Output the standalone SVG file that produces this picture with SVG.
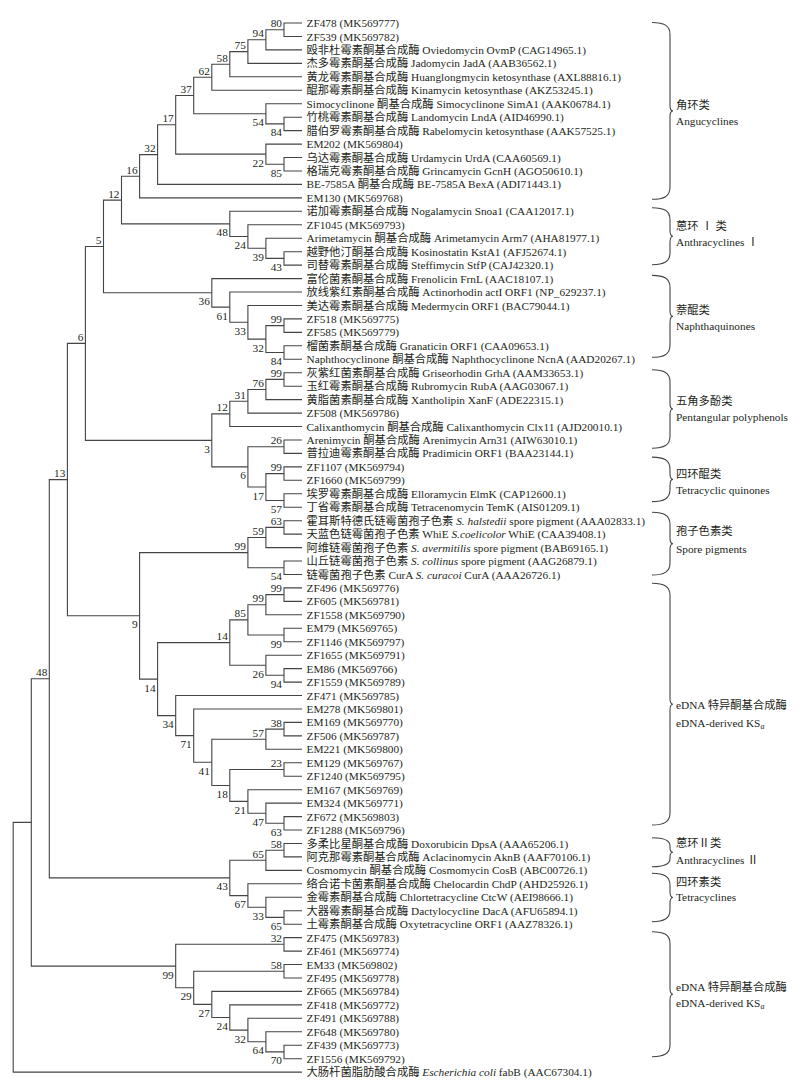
<svg xmlns="http://www.w3.org/2000/svg" width="800" height="1088" viewBox="0 0 800 1088">
<style>
text{font-family:"Liberation Serif","Noto Sans CJK SC",serif;font-size:11.3px;fill:#231f20}
.b{text-anchor:end}
.i{font-style:italic}
.br{fill:none;stroke:#444;stroke-width:1.1}
.brace{fill:none;stroke:#444;stroke-width:1.1}
</style>
<rect width="800" height="1088" fill="#fff"/>
<g id="connectors" class="br">
<path d="M302 23 H284 V36.5 H302"/>
<path d="M284 29.7 H265.9 V49.9 H302"/>
<path d="M265.9 39.8 H247.9 V63.4 H302"/>
<path d="M247.9 51.6 H229.8 V76.8 H302"/>
<path d="M229.8 64.2 H211.8 V90.3 H302"/>
<path d="M302 117.2 H284 V130.6 H302"/>
<path d="M302 103.7 H265.9 V123.9 H284"/>
<path d="M211.8 77.2 H193.7 V113.8 H265.9"/>
<path d="M302 157.5 H284 V171 H302"/>
<path d="M302 144.1 H265.9 V164.2 H284"/>
<path d="M193.7 95.5 H175.7 V154.1 H265.9"/>
<path d="M175.7 124.8 H157.6 V184.4 H302"/>
<path d="M157.6 154.6 H139.6 V197.9 H302"/>
<path d="M302 251.7 H284 V265.1 H302"/>
<path d="M302 238.2 H265.9 V258.4 H284"/>
<path d="M302 224.8 H247.9 V248.3 H265.9"/>
<path d="M302 211.3 H229.8 V236.5 H247.9"/>
<path d="M139.6 176.2 H121.5 V223.9 H229.8"/>
<path d="M302 318.9 H284 V332.4 H302"/>
<path d="M302 345.8 H284 V359.3 H302"/>
<path d="M284 325.6 H265.9 V352.5 H284"/>
<path d="M302 305.5 H247.9 V339.1 H265.9"/>
<path d="M302 292 H229.8 V322.3 H247.9"/>
<path d="M302 278.6 H211.8 V307.1 H229.8"/>
<path d="M121.5 200.1 H103.5 V292.8 H211.8"/>
<path d="M302 372.7 H284 V386.2 H302"/>
<path d="M284 379.4 H265.9 V399.6 H302"/>
<path d="M265.9 389.5 H247.9 V413.1 H302"/>
<path d="M247.9 401.3 H229.8 V426.5 H302"/>
<path d="M302 440 H284 V453.4 H302"/>
<path d="M302 466.9 H284 V480.3 H302"/>
<path d="M302 493.8 H284 V507.2 H302"/>
<path d="M284 473.6 H265.9 V500.5 H284"/>
<path d="M284 446.7 H247.9 V487 H265.9"/>
<path d="M229.8 413.9 H211.8 V466.9 H247.9"/>
<path d="M103.5 246.5 H85.4 V440.4 H211.8"/>
<path d="M302 520.7 H284 V534.1 H302"/>
<path d="M284 527.4 H265.9 V547.6 H302"/>
<path d="M302 561 H284 V574.5 H302"/>
<path d="M265.9 537.5 H247.9 V567.7 H284"/>
<path d="M302 587.9 H284 V601.4 H302"/>
<path d="M284 594.6 H265.9 V614.8 H302"/>
<path d="M302 628.3 H284 V641.7 H302"/>
<path d="M265.9 604.7 H247.9 V635 H284"/>
<path d="M302 668.6 H284 V682.1 H302"/>
<path d="M302 655.2 H265.9 V675.3 H284"/>
<path d="M247.9 619.9 H229.8 V665.2 H265.9"/>
<path d="M302 722.4 H284 V735.9 H302"/>
<path d="M284 729.1 H265.9 V749.3 H302"/>
<path d="M302 762.8 H284 V776.2 H302"/>
<path d="M302 816.6 H284 V830 H302"/>
<path d="M302 803.1 H265.9 V823.3 H284"/>
<path d="M302 789.7 H247.9 V813.2 H265.9"/>
<path d="M284 769.5 H229.8 V801.4 H247.9"/>
<path d="M265.9 739.2 H211.8 V785.5 H229.8"/>
<path d="M302 709 H193.7 V762.3 H211.8"/>
<path d="M302 695.5 H175.7 V735.6 H193.7"/>
<path d="M229.8 642.6 H157.6 V715.6 H175.7"/>
<path d="M247.9 552.6 H139.6 V679.1 H157.6"/>
<path d="M85.4 343.4 H67.4 V615.8 H139.6"/>
<path d="M302 843.5 H284 V856.9 H302"/>
<path d="M284 850.2 H265.9 V870.4 H302"/>
<path d="M302 910.7 H284 V924.2 H302"/>
<path d="M302 897.3 H265.9 V917.4 H284"/>
<path d="M302 883.8 H247.9 V907.3 H265.9"/>
<path d="M265.9 860.3 H229.8 V895.6 H247.9"/>
<path d="M67.4 479.6 H49.3 V877.9 H229.8"/>
<path d="M302 937.6 H284 V951.1 H302"/>
<path d="M302 964.5 H284 V978 H302"/>
<path d="M302 1045.2 H284 V1058.7 H302"/>
<path d="M302 1031.8 H265.9 V1051.9 H284"/>
<path d="M302 1018.3 H247.9 V1041.8 H265.9"/>
<path d="M302 1004.9 H229.8 V1030.1 H247.9"/>
<path d="M302 991.4 H211.8 V1017.5 H229.8"/>
<path d="M284 971.2 H193.7 V1004.4 H211.8"/>
<path d="M284 944.3 H175.7 V987.8 H193.7"/>
<path d="M49.3 678.8 H31.3 V966.1 H175.7"/>
<path d="M31.3 822.4 H13.2 V1072.1 H302"/>
</g>
<g id="bootstrap" class="b">
<text class="b" x="282" y="27.2">80</text>
<text class="b" x="263.9" y="37.3">94</text>
<text class="b" x="245.9" y="49.1">75</text>
<text class="b" x="227.8" y="61.7">58</text>
<text class="b" x="209.8" y="74.7">62</text>
<text class="b" x="282" y="136.4">84</text>
<text class="b" x="263.9" y="126.3">54</text>
<text class="b" x="191.7" y="93">37</text>
<text class="b" x="282" y="176.7">85</text>
<text class="b" x="263.9" y="166.6">22</text>
<text class="b" x="173.7" y="122.3">17</text>
<text class="b" x="155.6" y="152.1">32</text>
<text class="b" x="137.6" y="173.7">16</text>
<text class="b" x="282" y="270.9">43</text>
<text class="b" x="263.9" y="260.8">39</text>
<text class="b" x="245.9" y="249">24</text>
<text class="b" x="227.8" y="236.4">48</text>
<text class="b" x="119.5" y="197.6">12</text>
<text class="b" x="282" y="323.1">99</text>
<text class="b" x="282" y="365">84</text>
<text class="b" x="263.9" y="351.6">32</text>
<text class="b" x="245.9" y="334.8">33</text>
<text class="b" x="227.8" y="319.6">61</text>
<text class="b" x="209.8" y="305.3">36</text>
<text class="b" x="101.5" y="244">5</text>
<text class="b" x="282" y="376.9">99</text>
<text class="b" x="263.9" y="387">76</text>
<text class="b" x="245.9" y="398.8">31</text>
<text class="b" x="227.8" y="411.4">12</text>
<text class="b" x="282" y="444.2">26</text>
<text class="b" x="282" y="471.1">99</text>
<text class="b" x="282" y="513">57</text>
<text class="b" x="263.9" y="499.5">17</text>
<text class="b" x="245.9" y="479.4">6</text>
<text class="b" x="209.8" y="452.9">3</text>
<text class="b" x="83.4" y="340.9">6</text>
<text class="b" x="282" y="524.9">63</text>
<text class="b" x="263.9" y="535">59</text>
<text class="b" x="282" y="580.2">54</text>
<text class="b" x="245.9" y="550.1">99</text>
<text class="b" x="282" y="592.1">99</text>
<text class="b" x="263.9" y="602.2">99</text>
<text class="b" x="282" y="647.5">99</text>
<text class="b" x="245.9" y="617.4">85</text>
<text class="b" x="282" y="687.8">94</text>
<text class="b" x="263.9" y="677.7">26</text>
<text class="b" x="227.8" y="640.1">14</text>
<text class="b" x="282" y="726.6">38</text>
<text class="b" x="263.9" y="736.7">57</text>
<text class="b" x="282" y="767">23</text>
<text class="b" x="282" y="835.8">63</text>
<text class="b" x="263.9" y="825.7">47</text>
<text class="b" x="245.9" y="813.9">21</text>
<text class="b" x="227.8" y="798">18</text>
<text class="b" x="209.8" y="774.8">41</text>
<text class="b" x="191.7" y="748.1">71</text>
<text class="b" x="173.7" y="728.1">34</text>
<text class="b" x="155.6" y="691.6">14</text>
<text class="b" x="137.6" y="628.3">9</text>
<text class="b" x="65.4" y="477.1">13</text>
<text class="b" x="282" y="847.7">58</text>
<text class="b" x="263.9" y="857.8">65</text>
<text class="b" x="282" y="929.9">65</text>
<text class="b" x="263.9" y="919.8">33</text>
<text class="b" x="245.9" y="908.1">67</text>
<text class="b" x="227.8" y="890.4">43</text>
<text class="b" x="47.3" y="676.3">48</text>
<text class="b" x="282" y="941.8">32</text>
<text class="b" x="282" y="968.7">58</text>
<text class="b" x="282" y="1064.4">70</text>
<text class="b" x="263.9" y="1054.3">64</text>
<text class="b" x="245.9" y="1042.6">32</text>
<text class="b" x="227.8" y="1029.9">24</text>
<text class="b" x="209.8" y="1016.9">27</text>
<text class="b" x="191.7" y="1000.3">29</text>
<text class="b" x="173.7" y="978.6">99</text>
</g>
<g id="leaves">
<text x="306.5" y="27">ZF478 (MK569777)</text>
<text x="306.5" y="40.5">ZF539 (MK569782)</text>
<text x="306.5" y="53.9">殴非杜霉素酮基合成酶 Oviedomycin OvmP (CAG14965.1)</text>
<text x="306.5" y="67.4">杰多霉素酮基合成酶 Jadomycin JadA (AAB36562.1)</text>
<text x="306.5" y="80.8">黄龙霉素酮基合成酶 Huanglongmycin ketosynthase (AXL88816.1)</text>
<text x="306.5" y="94.3">醌那霉素酮基合成酶 Kinamycin ketosynthase (AKZ53245.1)</text>
<text x="306.5" y="107.7">Simocyclinone 酮基合成酶 Simocyclinone SimA1 (AAK06784.1)</text>
<text x="306.5" y="121.2">竹桃霉素酮基合成酶 Landomycin LndA (AID46990.1)</text>
<text x="306.5" y="134.6">腊伯罗霉素酮基合成酶 Rabelomycin ketosynthase (AAK57525.1)</text>
<text x="306.5" y="148.1">EM202 (MK569804)</text>
<text x="306.5" y="161.5">乌达霉素酮基合成酶 Urdamycin UrdA (CAA60569.1)</text>
<text x="306.5" y="175">格瑞克霉素酮基合成酶 Grincamycin GcnH (AGO50610.1)</text>
<text x="306.5" y="188.4">BE-7585A 酮基合成酶 BE-7585A BexA (ADI71443.1)</text>
<text x="306.5" y="201.9">EM130 (MK569768)</text>
<text x="306.5" y="215.3">诺加霉素酮基合成酶 Nogalamycin Snoa1 (CAA12017.1)</text>
<text x="306.5" y="228.8">ZF1045 (MK569793)</text>
<text x="306.5" y="242.2">Arimetamycin 酮基合成酶 Arimetamycin Arm7 (AHA81977.1)</text>
<text x="306.5" y="255.7">越野他汀酮基合成酶 Kosinostatin KstA1 (AFJ52674.1)</text>
<text x="306.5" y="269.1">司替霉素酮基合成酶 Steffimycin StfP (CAJ42320.1)</text>
<text x="306.5" y="282.6">富伦菌素酮基合成酶 Frenolicin FrnL (AAC18107.1)</text>
<text x="306.5" y="296">放线紫红素酮基合成酶 Actinorhodin actI ORF1 (NP_629237.1)</text>
<text x="306.5" y="309.5">美达霉素酮基合成酶 Medermycin ORF1 (BAC79044.1)</text>
<text x="306.5" y="322.9">ZF518 (MK569775)</text>
<text x="306.5" y="336.4">ZF585 (MK569779)</text>
<text x="306.5" y="349.8">榴菌素酮基合成酶 Granaticin ORF1 (CAA09653.1)</text>
<text x="306.5" y="363.3">Naphthocyclinone 酮基合成酶 Naphthocyclinone NcnA (AAD20267.1)</text>
<text x="306.5" y="376.7">灰紫红菌素酮基合成酶 Griseorhodin GrhA (AAM33653.1)</text>
<text x="306.5" y="390.2">玉红霉素酮基合成酶 Rubromycin RubA (AAG03067.1)</text>
<text x="306.5" y="403.6">黄脂菌素酮基合成酶 Xantholipin XanF (ADE22315.1)</text>
<text x="306.5" y="417.1">ZF508 (MK569786)</text>
<text x="306.5" y="430.5">Calixanthomycin 酮基合成酶 Calixanthomycin Clx11 (AJD20010.1)</text>
<text x="306.5" y="444">Arenimycin 酮基合成酶 Arenimycin Arn31 (AIW63010.1)</text>
<text x="306.5" y="457.4">普拉迪霉素酮基合成酶 Pradimicin ORF1 (BAA23144.1)</text>
<text x="306.5" y="470.9">ZF1107 (MK569794)</text>
<text x="306.5" y="484.3">ZF1660 (MK569799)</text>
<text x="306.5" y="497.8">埃罗霉素酮基合成酶 Elloramycin ElmK (CAP12600.1)</text>
<text x="306.5" y="511.2">丁省霉素酮基合成酶 Tetracenomycin TemK (AIS01209.1)</text>
<text x="306.5" y="524.7">霍耳斯特德氏链霉菌孢子色素 <tspan class="i">S. halstedii</tspan> spore pigment (AAA02833.1)</text>
<text x="306.5" y="538.1">天蓝色链霉菌孢子色素 WhiE <tspan class="i">S.coelicolor</tspan> WhiE (CAA39408.1)</text>
<text x="306.5" y="551.6">阿维链霉菌孢子色素 <tspan class="i">S. avermitilis</tspan> spore pigment (BAB69165.1)</text>
<text x="306.5" y="565">山丘链霉菌孢子色素 <tspan class="i">S. collinus</tspan> spore pigment (AAG26879.1)</text>
<text x="306.5" y="578.5">链霉菌孢子色素 CurA <tspan class="i">S. curacoi</tspan> CurA (AAA26726.1)</text>
<text x="306.5" y="591.9">ZF496 (MK569776)</text>
<text x="306.5" y="605.4">ZF605 (MK569781)</text>
<text x="306.5" y="618.8">ZF1558 (MK569790)</text>
<text x="306.5" y="632.3">EM79 (MK569765)</text>
<text x="306.5" y="645.7">ZF1146 (MK569797)</text>
<text x="306.5" y="659.2">ZF1655 (MK569791)</text>
<text x="306.5" y="672.6">EM86 (MK569766)</text>
<text x="306.5" y="686.1">ZF1559 (MK569789)</text>
<text x="306.5" y="699.5">ZF471 (MK569785)</text>
<text x="306.5" y="713">EM278 (MK569801)</text>
<text x="306.5" y="726.4">EM169 (MK569770)</text>
<text x="306.5" y="739.9">ZF506 (MK569787)</text>
<text x="306.5" y="753.3">EM221 (MK569800)</text>
<text x="306.5" y="766.8">EM129 (MK569767)</text>
<text x="306.5" y="780.2">ZF1240 (MK569795)</text>
<text x="306.5" y="793.7">EM167 (MK569769)</text>
<text x="306.5" y="807.1">EM324 (MK569771)</text>
<text x="306.5" y="820.6">ZF672 (MK569803)</text>
<text x="306.5" y="834">ZF1288 (MK569796)</text>
<text x="306.5" y="847.5">多柔比星酮基合成酶 Doxorubicin DpsA (AAA65206.1)</text>
<text x="306.5" y="860.9">阿克那霉素酮基合成酶 Aclacinomycin AknB (AAF70106.1)</text>
<text x="306.5" y="874.4">Cosmomycin 酮基合成酶 Cosmomycin CosB (ABC00726.1)</text>
<text x="306.5" y="887.8">络合诺卡菌素酮基合成酶 Chelocardin ChdP (AHD25926.1)</text>
<text x="306.5" y="901.3">金霉素酮基合成酶 Chlortetracycline CtcW (AEI98666.1)</text>
<text x="306.5" y="914.7">大器霉素酮基合成酶 Dactylocycline DacA (AFU65894.1)</text>
<text x="306.5" y="928.2">土霉素酮基合成酶 Oxytetracycline ORF1 (AAZ78326.1)</text>
<text x="306.5" y="941.6">ZF475 (MK569783)</text>
<text x="306.5" y="955.1">ZF461 (MK569774)</text>
<text x="306.5" y="968.5">EM33 (MK569802)</text>
<text x="306.5" y="982">ZF495 (MK569778)</text>
<text x="306.5" y="995.4">ZF665 (MK569784)</text>
<text x="306.5" y="1008.9">ZF418 (MK569772)</text>
<text x="306.5" y="1022.3">ZF491 (MK569788)</text>
<text x="306.5" y="1035.8">ZF648 (MK569780)</text>
<text x="306.5" y="1049.2">ZF439 (MK569773)</text>
<text x="306.5" y="1062.7">ZF1556 (MK569792)</text>
<text x="306.5" y="1076.1">大肠杆菌脂肪酸合成酶 <tspan class="i">Escherichia coli</tspan> fabB (AAC67304.1)</text>
</g>
<g id="group-angucyclines">
<path class="brace" d="M652 22.5 C664 22.5 670 25.5 670 34.5 V104.9 C670 108.9 671 110.9 673 110.9 C671 110.9 670 112.9 670 116.9 V187.3 C670 196.3 664 199.3 652 199.3"/>
<text x="676" y="108.6">角环类</text><text x="676" y="124.7">Angucyclines</text>
</g>
<g id="group-anthracyclines1">
<path class="brace" d="M652 207.7 C664 207.7 670 210.7 670 219.7 V230.2 C670 234.2 671 236.2 673 236.2 C671 236.2 670 238.2 670 242.2 V252.7 C670 261.7 664 264.7 652 264.7"/>
<text x="676" y="230">蒽环 Ⅰ 类</text><text x="676" y="246">Anthracyclines Ⅰ</text>
</g>
<g id="group-naphthaquinones">
<path class="brace" d="M652 275.4 C664 275.4 670 278.4 670 287.4 V310.4 C670 314.4 671 316.4 673 316.4 C671 316.4 670 318.4 670 322.4 V345.3 C670 354.3 664 357.3 652 357.3"/>
<text x="676" y="314">萘醌类</text><text x="676" y="330">Naphthaquinones</text>
</g>
<g id="group-pentangular">
<path class="brace" d="M652 369.8 C664 369.8 670 372.8 670 381.8 V403 C670 407 671 409 673 409 C671 409 670 411 670 415 V436.2 C670 445.2 664 448.2 652 448.2"/>
<text x="676" y="405">五角多酚类</text><text x="676" y="421">Pentangular polyphenols</text>
</g>
<g id="group-tetracyclic-quinones">
<path class="brace" d="M652 457.1 C664 457.1 670 460.1 670 469.1 V473.4 C670 477.4 671 479.4 673 479.4 C671 479.4 670 481.4 670 485.4 V489.6 C670 498.6 664 501.6 652 501.6"/>
<text x="676" y="478">四环醌类</text><text x="676" y="494">Tetracyclic quinones</text>
</g>
<g id="group-spore">
<path class="brace" d="M652 512.3 C664 512.3 670 515.3 670 524.3 V537.7 C670 541.7 671 543.7 673 543.7 C671 543.7 670 545.7 670 549.7 V563 C670 572 664 575 652 575"/>
<text x="676" y="535">孢子色素类</text><text x="676" y="553">Spore pigments</text>
</g>
<g id="group-edna1">
<path class="brace" d="M652 583.3 C664 583.3 670 586.3 670 595.3 V698.2 C670 702.2 671 704.2 673 704.2 C671 704.2 670 706.2 670 710.2 V813 C670 822 664 825 652 825"/>
<text x="676" y="709">eDNA 特异酮基合成酶</text><text x="676" y="727">eDNA-derived KS<tspan font-size="7.5px" dy="2">α</tspan></text>
</g>
<g id="group-anthracyclines2">
<path class="brace" d="M652 837.7 C664 837.7 670 839.7 670 845.7 V847.2 C670 850.2 671 852.2 673 852.2 C671 852.2 670 854.2 670 857.2 V858.7 C670 864.7 664 866.7 652 866.7"/>
<text x="676" y="847">蒽环Ⅱ类</text><text x="676" y="864">Anthracyclines Ⅱ</text>
</g>
<g id="group-tetracyclines">
<path class="brace" d="M652 873.3 C664 873.3 670 876.3 670 885.3 V891.5 C670 895.5 671 897.5 673 897.5 C671 897.5 670 899.5 670 903.5 V909.7 C670 918.7 664 921.7 652 921.7"/>
<text x="676" y="886">四环素类</text><text x="676" y="901">Tetracyclines</text>
</g>
<g id="group-edna2">
<path class="brace" d="M652 931.7 C664 931.7 670 934.7 670 943.7 V988.2 C670 992.2 671 994.2 673 994.2 C671 994.2 670 996.2 670 1000.2 V1044.7 C670 1053.7 664 1056.7 652 1056.7"/>
<text x="676" y="991">eDNA 特异酮基合成酶</text><text x="676" y="1007">eDNA-derived KS<tspan font-size="7.5px" dy="2">α</tspan></text>
</g>
</svg>
